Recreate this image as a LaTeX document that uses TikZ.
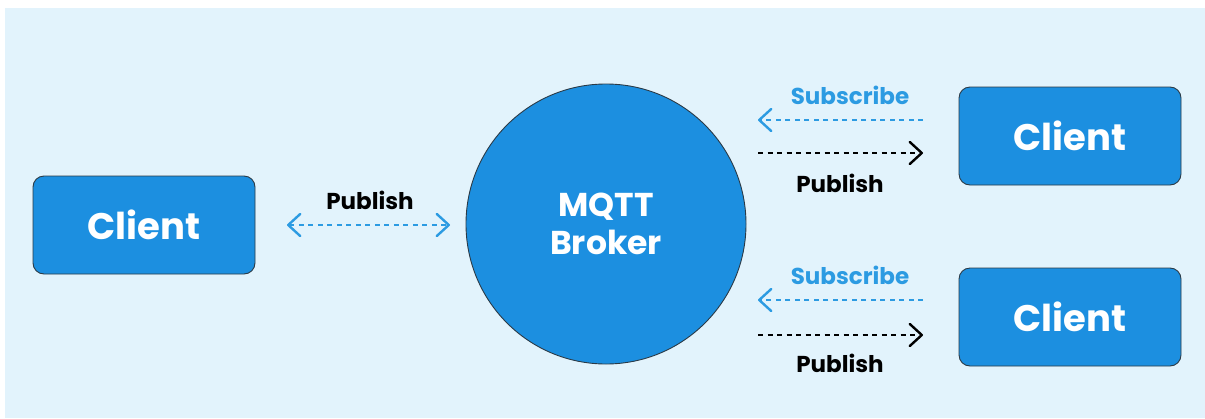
\documentclass[tikz,border=0pt]{standalone}
\usepackage{fontspec}
\setmainfont{Poppins}
\usetikzlibrary{arrows.meta}
\definecolor{bgblue}{HTML}{E2F3FC}
\definecolor{boxblue}{HTML}{1C8FE0}
\definecolor{edgegray}{HTML}{2B3A46}
\definecolor{subblue}{HTML}{2C9BE2}
\tikzset{
  chev/.tip={Straight Barb[length=12pt, width=22pt, line width=2.4pt, line cap=round, line join=round]},
  client/.style={rectangle, rounded corners=11pt, fill=boxblue, draw=edgegray,
    line width=0.9pt, minimum width=222pt, minimum height=98pt,
    text=white, font=\fontsize{37}{40}\selectfont\bfseries},
  broker/.style={circle, fill=boxblue, draw=edgegray, line width=0.9pt,
    minimum size=280pt, inner sep=0pt, text=white, align=center,
    font=\fontsize{33}{38}\selectfont\bfseries},
  msglabel/.style={font=\fontsize{23}{26}\selectfont\bfseries, inner sep=0pt},
  flow/.style={line width=1.6pt, dash pattern=on 5pt off 4.5pt, -chev},
}
\begin{document}
\begin{tikzpicture}[x=1pt, y=-1pt]
  \useasboundingbox (0,0) rectangle (1205,418);
  \fill[bgblue] (5,8) rectangle (1205,418);

  % nodes
  \node[client] (left) at (144,225) {Client};
  \node[broker] (mqtt) at (606,224) {MQTT\\Broker};
  \node[client] (top) at (1070,136) {Client};
  \node[client] (bottom) at (1070,317) {Client};

  % left publisher
  \coordinate (lA) at (287,225);
  \coordinate (lB) at (450,225);
  \draw[flow, subblue, chev-chev] (lA) -- (lB);
  \node[msglabel] (lpub) at (370,200) {Publish};

  % top subscriber
  \coordinate (tS1) at (923,120);
  \coordinate (tS2) at (758,120);
  \coordinate (tP1) at (758,153);
  \coordinate (tP2) at (923,153);
  \draw[flow, subblue] (tS1) -- (tS2);
  \draw[flow, black] (tP1) -- (tP2);
  \node[msglabel, text=subblue] (tsub) at (850,95) {Subscribe};
  \node[msglabel] (tpub) at (840,183) {Publish};

  % bottom subscriber
  \coordinate (bS1) at (923,300);
  \coordinate (bS2) at (758,300);
  \coordinate (bP1) at (758,335);
  \coordinate (bP2) at (923,335);
  \draw[flow, subblue] (bS1) -- (bS2);
  \draw[flow, black] (bP1) -- (bP2);
  \node[msglabel, text=subblue] (bsub) at (850,275) {Subscribe};
  \node[msglabel] (bpub) at (840,363) {Publish};
\end{tikzpicture}
\end{document}
